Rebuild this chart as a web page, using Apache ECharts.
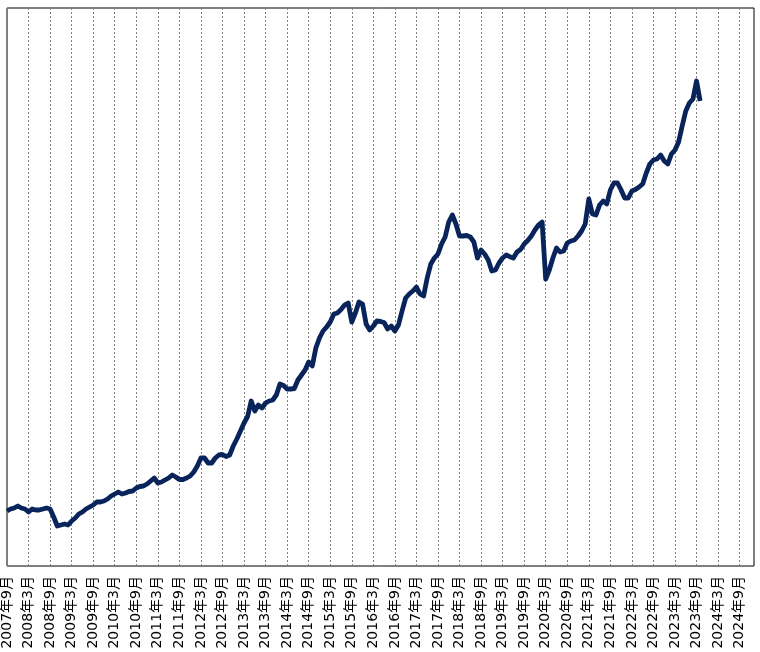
<!DOCTYPE html>
<html>
<head>
<meta charset="utf-8">
<script src="https://cdn.jsdelivr.net/npm/echarts@6/dist/echarts.min.js"></script>
<style>
html,body{margin:0;padding:0;background:#fff;}
#chart{width:760px;height:652px;}
</style>
</head>
<body>
<div id="chart"></div>
<script>
// Category months 2007-09 .. 2025-01 (tick labels every 6 months)
var startYear = 2007, startMonth = 9, monthCount = 209;
var categories = [];
for (var i = 0; i < monthCount; i++) {
  var t = startMonth - 1 + i;
  categories.push((startYear + Math.floor(t / 12)) + '年' + (t % 12 + 1) + '月');
}

// Monthly index values (arbitrary units), from 2007-09
var values = [
  55, 57, 58, 60, 58, 57, 54, 57, 56, 56, 57, 58,
  57, 49, 40, 41, 42, 41, 45, 48, 52, 54, 57, 59,
  61, 64, 64, 65, 67, 70, 72, 74, 72, 73, 74.5, 75,
  78, 79.5, 80, 82, 85, 88, 83, 84, 86, 88, 91, 89,
  86.5, 86.5, 88, 90, 94, 100, 108, 108, 103, 103, 108, 111,
  111.5, 109.5, 111, 120, 127, 135, 143, 149.5, 165, 155, 161, 158,
  163, 165, 166, 171, 182, 180.5, 177, 177, 177.5, 186, 191, 196,
  204, 200, 218, 228, 235, 239, 244, 252, 253, 256.5, 261, 263,
  244, 253, 264, 262, 242, 236, 240, 245, 244.5, 243.5, 237, 240,
  235, 241, 255, 268, 272, 275, 279, 272, 270, 288, 302, 308,
  312, 322, 329, 344, 351, 342, 330, 330, 330.5, 329, 324, 308,
  316, 312, 306, 295, 296, 303, 308, 311, 309.3, 308, 314, 316.5,
  322, 325.5, 330, 336, 341, 344, 287, 296, 308, 318, 314, 315,
  323, 325, 326, 330, 335, 342, 367, 352, 351, 361, 365, 362,
  376, 383, 383, 376, 368, 368, 375, 376.5, 379, 382, 393, 402,
  406, 407, 411, 405, 402, 412, 416, 424, 440, 455, 463, 467,
  485, 465
];

var chart = echarts.init(document.getElementById('chart'));
chart.setOption({
  animation: false,
  backgroundColor: '#ffffff',
  grid: {
    left: 7, right: 6, top: 8, bottom: 86,
    show: true, borderColor: '#000000', borderWidth: 1,
    backgroundColor: '#ffffff'
  },
  xAxis: {
    type: 'category',
    data: categories,
    boundaryGap: false,
    axisLine: { show: false },
    axisTick: { show: false },
    axisLabel: {
      interval: 5,
      rotate: 90,
      margin: 10,
      color: '#000000',
      fontSize: 14,
      fontFamily: 'DejaVu Sans, "Noto Sans CJK SC", sans-serif'
    },
    splitLine: {
      show: true,
      interval: 5,
      lineStyle: { color: '#808080', width: 1, type: [2, 2] }
    }
  },
  yAxis: {
    type: 'value',
    min: 0,
    max: 558,
    show: false,
    splitLine: { show: false }
  },
  series: [{
    type: 'line',
    data: values,
    showSymbol: false,
    smooth: false,
    lineStyle: { color: '#08245a', width: 4.8, join: 'round', cap: 'butt' }
  }]
});
</script>
</body>
</html>
